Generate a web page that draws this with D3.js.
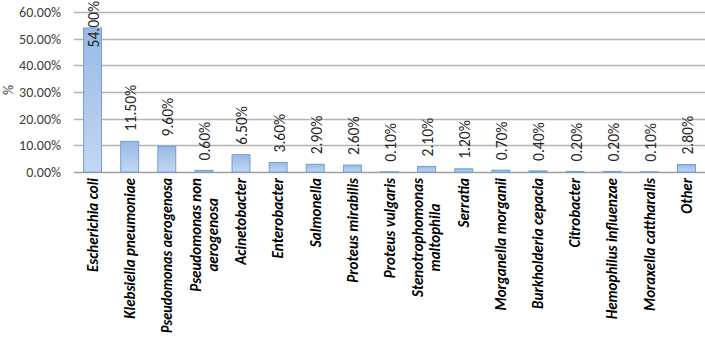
<!DOCTYPE html>
<html>
<head>
<meta charset="utf-8">
<script src="https://cdn.jsdelivr.net/npm/d3@7"></script>
<style>
  body { margin: 0; background: #fff; }
  svg text { font-family: Carlito, Calibri, Lato, "Open Sans", sans-serif; }
</style>
</head>
<body>
<div id="chart"></div>
<script>
// organisms (multi-line labels use "|" as break)
let organisms = ["Escherichia coli", "Klebsiella pneumoniae", "Pseudomonas aerogenosa",
  "Pseudomonas non|aerogenosa", "Acinetobacter", "Enterobacter", "Salmonella",
  "Proteus mirabilis", "Proteus vulgaris", "Stenotrophomonas|maltophila", "Serratia",
  "Morganella morganii", "Burkholderia cepacia", "Citrobacter", "Hemophilus influenzae",
  "Moraxella cattharalis", "Other"];
let percents = [54.0, 11.5, 9.6, 0.6, 6.5, 3.6, 2.9, 2.6, 0.1, 2.1, 1.2, 0.7, 0.4, 0.2, 0.2, 0.1, 2.8];
let yTicks = [0, 10, 20, 30, 40, 50, 60];

let W = 705, H = 337;
let margin = {top: 12, left: 74, right: 0, bottom: 165};

let svg = d3.select("#chart").append("svg").attr("width", W).attr("height", H);

let defs = svg.append("defs");
let grad = defs.append("linearGradient").attr("id", "barFill")
  .attr("x1", 0).attr("y1", 0).attr("x2", 0).attr("y2", 1);
grad.append("stop").attr("offset", "0%").attr("stop-color", "#9ab9e5");
grad.append("stop").attr("offset", "100%").attr("stop-color", "#c3d7f1");

let x = d3.scaleBand()
  .domain(organisms)
  .range([margin.left, W - margin.right])
  .paddingInner(0.49)
  .paddingOuter(0.245);

let y = d3.scaleLinear()
  .domain([0, 60])
  .range([H - margin.bottom, margin.top]);

// gridlines
svg.append("g")
  .selectAll("line")
  .data(yTicks)
  .enter().append("line")
  .attr("x1", margin.left)
  .attr("x2", W - margin.right)
  .attr("y1", d => Math.round(y(d)) + 0.5)
  .attr("y2", d => Math.round(y(d)) + 0.5)
  .attr("stroke", d => d == 0 ? "#a0a0a0" : "#b4b4b4")
  .attr("stroke-width", 1.3);

// y axis labels
let yAxis = svg.append("g")
  .attr("transform", `translate(${margin.left - 13},0)`)
  .call(d3.axisLeft(y).tickValues(yTicks).tickSize(0).tickFormat(d => d.toFixed(2) + "%"));
yAxis.select(".domain").remove();
yAxis.selectAll("text")
  .attr("x", 0)
  .style("font-family", "Carlito, Calibri, Lato, sans-serif")
  .style("font-size", "14px")
  .attr("fill", "#404040");

svg.append("text")
  .attr("transform", `translate(8,90) rotate(-90)`)
  .attr("text-anchor", "middle")
  .attr("dy", "0.35em")
  .attr("font-size", 14)
  .attr("fill", "#404040")
  .text("%");

// bars
svg.append("g")
  .selectAll("rect")
  .data(percents)
  .enter().append("rect")
  .attr("x", (d, i) => x(organisms[i]) + 0.5)
  .attr("y", d => y(d))
  .attr("width", x.bandwidth() - 1)
  .attr("height", d => y(0) - y(d))
  .attr("fill", "url(#barFill)")
  .attr("stroke", "#6f9fd8")
  .attr("stroke-width", 1);

// value labels
let vals = svg.append("g")
  .selectAll("text")
  .data(percents)
  .enter().append("text")
  .attr("text-anchor", "start")
  .attr("font-size", 15.5)
  .attr("fill", "#262626")
  .text(d => d.toFixed(2) + "%");

vals.each(function(d, i) {
  let len = this.getComputedTextLength();
  let base = y(d) - 10;
  if (base - len < 0) base = len + 1;
  let cx = x(organisms[i]) + x.bandwidth() / 2 + 1;
  d3.select(this)
    .attr("dy", "0.35em")
    .attr("transform", `translate(${cx},${base}) rotate(-90)`);
});

// category labels
let labelTop = y(0) + 6;
let maxRoom = H - 4 - labelTop;
let cats = svg.append("g")
  .selectAll("g")
  .data(organisms)
  .enter().append("g");

cats.each(function(name) {
  let lines = name.split("|");
  let g = d3.select(this);
  let cx = x(name) + x.bandwidth() / 2;
  let texts = lines.map(l => g.append("text")
    .attr("font-size", 15)
    .attr("font-weight", "bold")
    .attr("font-style", "italic")
    .attr("fill", "#000")
    .text(l));
  texts.forEach(function(t) {
    if (t.node().getComputedTextLength() > maxRoom) {
      t.attr("textLength", maxRoom).attr("lengthAdjust", "spacingAndGlyphs");
    }
  });
  let maxLen = d3.min([maxRoom, d3.max(texts, t => t.node().getComputedTextLength())]);
  let lineH = 17;
  texts.forEach(function(t, k) {
    let off = (k - (lines.length - 1) / 2) * lineH;
    if (lines.length == 1) {
      t.attr("text-anchor", "end")
        .attr("dy", "0.35em")
        .attr("transform", `translate(${cx},${labelTop}) rotate(-90)`);
    } else {
      t.attr("text-anchor", "middle")
        .attr("dy", "0.35em")
        .attr("transform", `translate(${cx + off},${labelTop + maxLen / 2}) rotate(-90)`);
    }
  });
});
</script>
</body>
</html>
